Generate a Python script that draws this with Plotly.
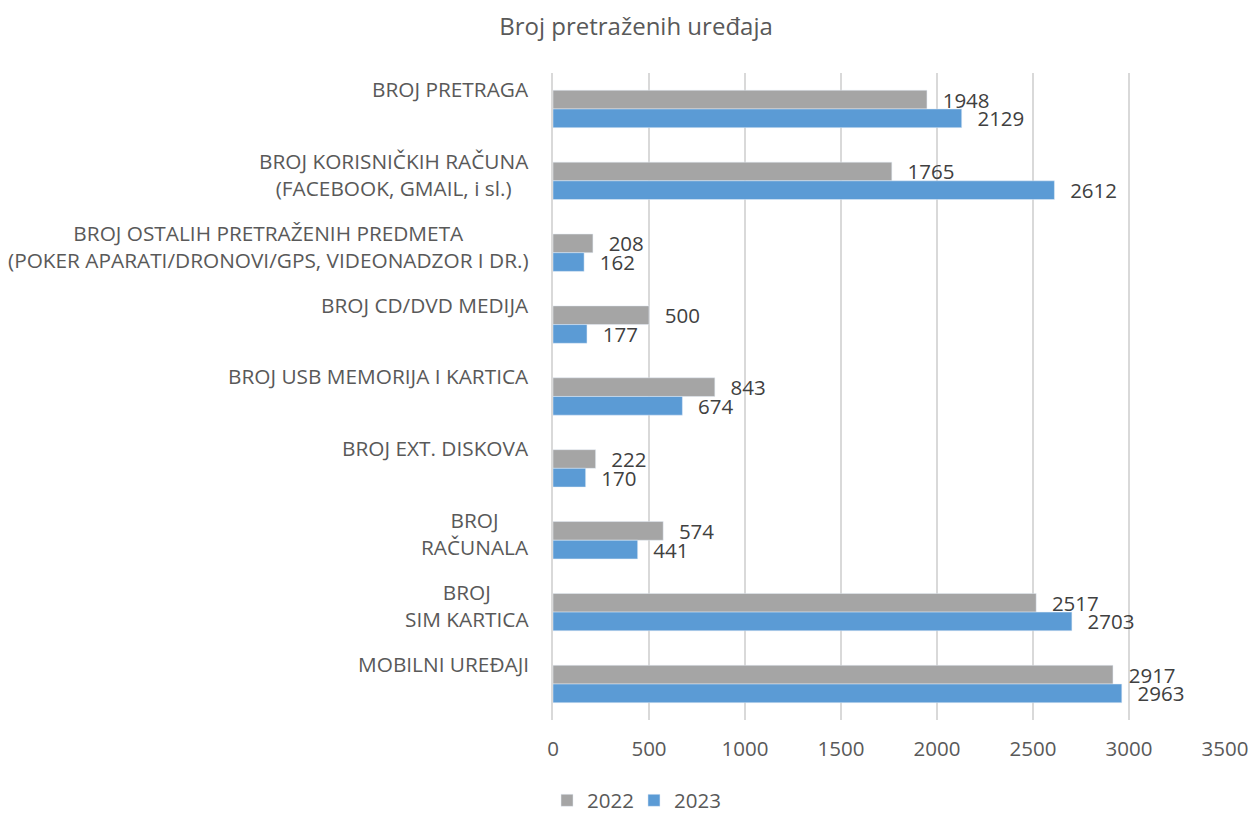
import plotly.graph_objects as go

categories = [
    "BROJ PRETRAGA<br> ",
    "BROJ KORISNIČKIH RAČUNA<br>(FACEBOOK, GMAIL, i sl.)",
    "BROJ OSTALIH PRETRAŽENIH PREDMETA<br>(POKER APARATI/DRONOVI/GPS, VIDEONADZOR I DR.)",
    "BROJ CD/DVD MEDIJA<br> ",
    "BROJ USB MEMORIJA I KARTICA<br> ",
    "BROJ EXT. DISKOVA<br> ",
    "BROJ<br>RAČUNALA",
    "BROJ<br>SIM KARTICA",
    "MOBILNI UREĐAJI<br> ",
]
ids = list(range(len(categories)))
values_2022 = [1948, 1765, 208, 500, 843, 222, 574, 2517, 2917]
values_2023 = [2129, 2612, 162, 177, 674, 170, 441, 2703, 2963]
x_ticks = [0, 500, 1000, 1500, 2000, 2500, 3000, 3500]

FONT = "Open Sans"
TXT = "#595959"
FS = 20.5
PAD = "\u00a0\u00a0\u200a"

fig = go.Figure()
fig.add_trace(go.Bar(
    y=ids, x=values_2022, orientation="h", name="2022",
    marker=dict(color="#A5A5A5"),
    text=[PAD + str(v) for v in values_2022], textposition="outside",
    constraintext="none",
    textfont=dict(family=FONT, size=FS, color="#404040"),
    cliponaxis=False, legend="legend",
))
fig.add_trace(go.Bar(
    y=ids, x=values_2023, orientation="h", name="2023",
    marker=dict(color="#5B9BD5"),
    text=[PAD + str(v) for v in values_2023], textposition="outside",
    constraintext="none",
    textfont=dict(family=FONT, size=FS, color="#404040"),
    cliponaxis=False, legend="legend2",
))

for i, c in zip(ids, categories):
    fig.add_annotation(
        x=0, xref="paper", xanchor="right", xshift=-22,
        y=i, yref="y", yanchor="middle", yshift=6.5,
        text=c, align="center", showarrow=False,
        font=dict(family=FONT, size=20.8, color=TXT),
    )

legend_style = dict(orientation="h", yanchor="middle", y=-0.1244,
                    xanchor="left", bgcolor="rgba(0,0,0,0)",
                    font=dict(family=FONT, size=FS, color=TXT))

fig.update_layout(
    width=1253, height=814,
    paper_bgcolor="white", plot_bgcolor="white",
    margin=dict(l=553, r=28, t=73, b=93.5, autoexpand=False),
    barmode="group", bargap=0.48, bargroupgap=0,
    title=dict(text="Broj pretraženih uređaja", x=0.5076, xanchor="center",
               y=0.9668, yanchor="middle",
               font=dict(family=FONT, size=24, color=TXT)),
    xaxis=dict(range=[0, 3500.5], tickvals=x_ticks, showgrid=True,
               gridcolor="#D9D9D9", gridwidth=1.5, zeroline=False,
               tickfont=dict(family=FONT, size=FS, color=TXT),
               ticks="", showline=False, ticklabelstandoff=14),
    yaxis=dict(tickvals=ids, showticklabels=False, autorange="reversed",
               showline=True, linecolor="#D9D9D9", linewidth=1.5,
               showgrid=False, zeroline=False),
    legend=dict(x=-0.0089, **legend_style),
    legend2=dict(x=0.1205, **legend_style),
    showlegend=True,
)

fig.write_html("out.html", config={"displayModeBar": False},
               post_script="document.body.style.margin='0';")
